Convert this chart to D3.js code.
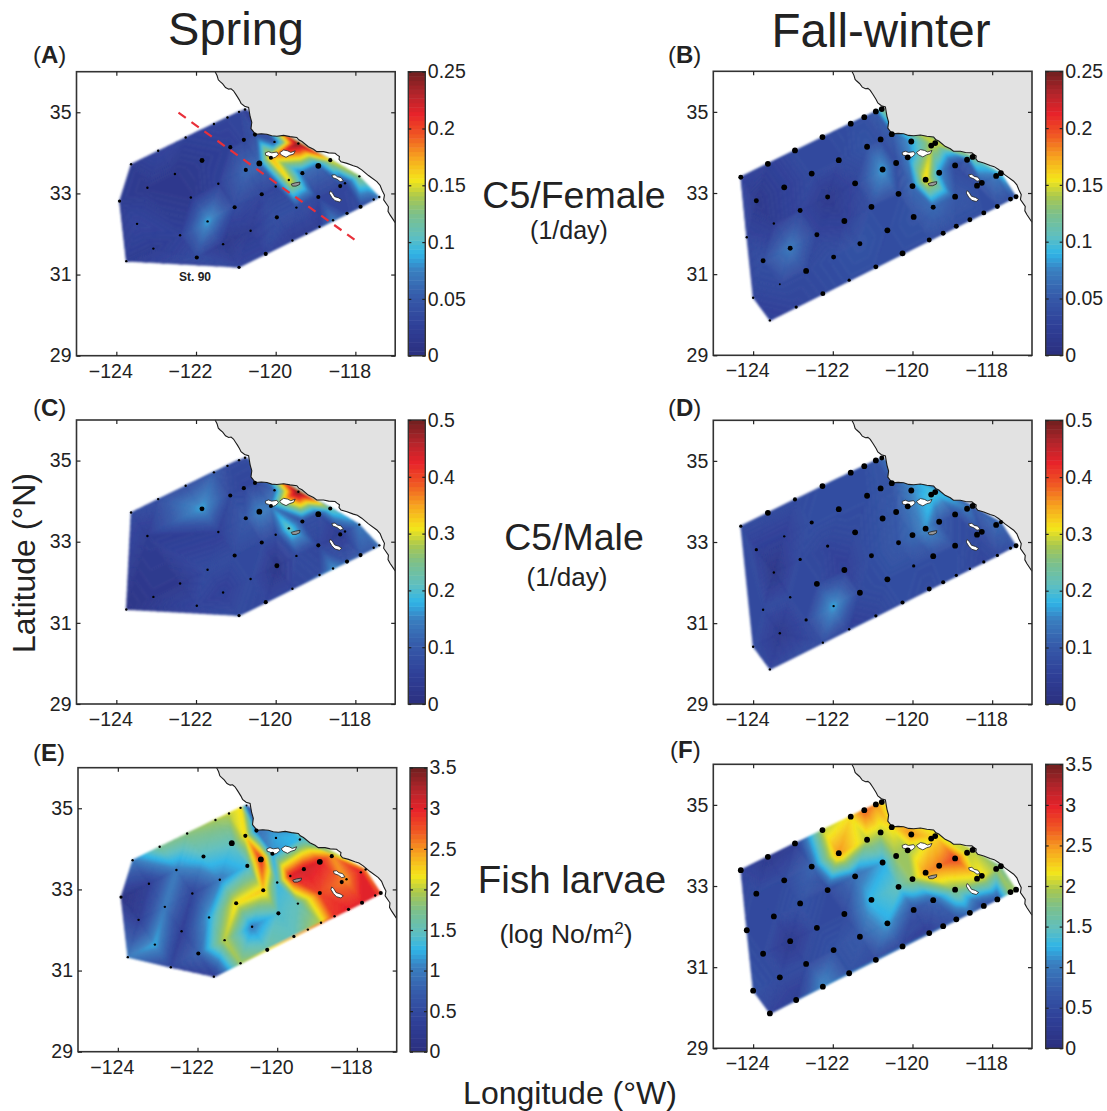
<!DOCTYPE html>
<html>
<head>
<meta charset="utf-8">
<title>Ingestion maps</title>
<script src="https://cdn.jsdelivr.net/npm/d3@7"></script>
<style>
  html, body { margin: 0; padding: 0; background: #fff; }
  svg { display: block; }
  text { font-family: "Liberation Sans", Arial, sans-serif; fill: #222; }
  .tick line { stroke: #222; stroke-width: 1.2; }
  .domain { display: none; }
</style>
</head>
<body>
<div id="chart"></div>
<script>
// --- DATA ---
// station grid, numbered 1..65
const stationLon = [-124.31,-123.63,-122.95,-122.26,-121.55,-121.21,-120.92,-120.77,-120.52,-120.80,
  -121.14,-121.85,-122.53,-123.22,-123.92,-123.48,-122.82,-122.13,-121.44,-120.75,
  -120.41,-120.12,-120.03,-119.53,-119.43,-118.93,-118.63,-118.49,-119.33,-119.67,
  -120.00,-120.35,-121.03,-121.71,-122.40,-123.07,-123.75,-124.16,-124.00,-123.33,
  -122.67,-121.98,-121.32,-120.63,-119.97,-119.48,-118.93,-118.38,-118.26,-117.90,
  -117.78,-117.54,-117.40,-117.87,-118.21,-118.56,-118.90,-119.23,-119.58,-120.25,
  -120.92,-121.59,-122.25,-122.92,-123.58];
const stationLat = [33.39,33.72,34.05,34.38,34.71,34.87,35.01,35.07,34.45,34.32,
  34.14,33.81,33.48,33.14,32.81,32.25,32.57,32.90,33.24,33.58,
  33.74,33.88,34.27,34.17,34.23,33.68,33.82,33.89,33.50,33.33,
  33.17,32.98,32.66,32.31,31.97,31.64,31.33,31.91,30.42,30.75,
  31.08,31.42,31.75,32.08,32.41,32.65,32.91,33.18,33.25,33.42,
  33.49,32.85,32.91,32.67,32.51,32.34,32.18,32.01,31.84,31.51,
  31.18,30.85,30.52,30.19,29.86];

const _ = null;
// value at each station, null = not sampled that season
const valuesA = [_,.02,.03,.025,.03,.03,.03,.02,.04,.03,
  .025,.02,.015,.015,.02,.03,_,.015,.025,.06,
  .06,.17,.045,_,.245,.06,.15,_,.06,.155,
  .03,.03,.035,.085,.025,.02,.02,_,_,_,
  _,.035,.015,.02,.04,.04,.03,.03,.03,.13,
  _,.05,.07,.035,.03,.07,.02,.02,.02,.03,
  .03,_,_,_,_];
const valuesB = [.03,.025,.035,.035,.04,.04,.05,.12,.05,.04,
  .045,.035,.035,.025,.015,.02,.03,.015,.03,.085,
  .04,.07,.085,.14,.15,.035,.05,.12,.08,.16,
  .06,.04,.04,.025,.03,.07,.04,.03,.03,.035,
  .035,.04,.045,.04,.045,.06,.05,.04,.05,.07,
  .1,.04,.05,.04,.04,.04,.04,.04,.04,.04,
  .04,.04,.035,.03,.025];
const valuesC = [_,.07,.08,.08,.1,.07,.07,.07,.06,.06,
  .07,.17,_,.04,_,_,_,_,.05,.1,
  .15,.14,.12,_,.5,.08,.22,_,.08,.22,
  .07,.07,.07,.07,.03,.03,.02,_,_,_,
  _,.06,.05,.07,.02,.07,.06,.03,.06,.14,
  _,.1,.13,.1,.09,.16,.07,_,.06,.06,
  .07,_,_,_,_];
const valuesD = [.07,.07,.07,.08,.08,.08,.09,.12,.09,.09,
  .08,.08,.08,.05,.05,.02,.07,.06,.07,.09,
  .1,.13,.15,.2,.2,.08,.14,.1,.1,.16,
  .12,.1,.08,.05,.07,.07,.07,_,.07,.03,
  .07,.17,.07,.08,.08,.08,.08,.07,.08,.12,
  .12,.08,.09,.07,.06,.07,.08,.08,.07,.08,
  .06,.05,.08,_,.06];
const valuesE = [_,1.0,1.7,1.8,1.9,2.0,2.2,.7,.9,2.2,
  1.5,1.4,1.0,.3,.1,.3,1.0,.4,1.0,1.3,
  2.9,1.1,1.2,_,1.3,3.0,2.5,_,3.1,3.0,
  1.3,2.3,2.2,1.2,.3,1.2,1.0,_,_,_,
  .4,.8,2.0,1.0,1.4,1.5,2.8,2.6,2.5,3.0,
  2.5,3.0,2.8,3.0,3.0,2.9,2.0,1.8,1.5,1.6,
  1.9,.3,_,_,_];
const valuesF = [.4,.2,.3,2.0,2.2,2.7,2.5,2.2,2.2,2.0,
  2.0,2.5,.8,.5,.5,.5,.6,.5,.9,1.2,
  1.9,1.9,2.5,2.2,2.2,2.8,2.0,2.0,2.6,2.5,
  1.9,1.5,1.3,.5,.5,.2,.5,.5,.6,.5,
  .5,.6,.7,1.2,.6,.8,1.8,2.1,2.2,1.9,
  1.7,1.9,1.9,.7,.5,.9,.6,.5,.3,.4,
  .5,.6,1.1,.3,.4];

// dot size class at each station
const sizesA = [0,1,1,1,1,1,1,1,2,2,
  2,2.5,1,1,1.5,1,0,1,1,2,
  3,2,1,0,1,3,2,0,2,1,
  1,2,2,1,1,1,1,0,0,0,
  0,2,1,1,2,1,2,2,1,1,
  0,1,1,2,1.5,1,1,1,1,2,
  1.5,0,0,0,0];
const sizesB = [2.5,3,3,3,3,3,3,3,3,3,
  3,3,3,3,2.5,1,2.5,2.5,3,3,
  3,3,3,3,3,3,3,3,3,3,
  3,3,3,3,2.5,2.5,2.5,1,1,.7,
  3,2.5,2.5,3,3,2.5,3,3,3,3,
  3,2.5,2.5,2.5,2.5,2.5,2.5,2.5,2.5,3,
  2.5,1.5,2.5,1.5,1];
const sizesC = [0,1,1,1,1,1,1,1,2,2,
  2,2.5,0,1,0,0,0,0,1,2,
  3,2,1,0,1,3,2,0,2,1,
  1,2,2,1,1,1,1,0,0,0,
  0,1,1,1,2.5,1,2,2,1,1,
  0,1,1,2,2,1,1,0,1,2,
  1.5,0,0,0,0];
const sizesD = [1.5,3,2,3,3,3,3,2.5,3,3,
  3,3,2,1,1.5,1,1.5,1.5,3,3,
  3,3,3,3,3,3,3,3,3,3,
  3,2.5,2.5,3,3,1,1,0,1,1,
  1.5,1,3,3,1.5,3,3,3,3,3,
  2,1.5,2.5,1.5,1.5,1,1.5,2,2.5,2,
  1.5,1,1,0,1];
const sizesE = [0,1,1,1,1,1,1,.7,2,2,
  3,2,1,1,1.5,1,1,1,1,2,
  3,2,1,0,1,3,2,0,2,1,
  1,2,2,1,1,1,1,0,0,0,
  1,2,1,1,2,1,2,2,1,1,
  1,1,2,2,1.5,1,1,1,1.5,2,
  1,1,0,0,0];
const sizesF = d3.range(65).map(() => 3);

// coastline
const coastLon = [-121.52,-121.47,-121.44,-121.40,-121.33,-121.26,-121.18,-121.12,-121.06,-121.0,-120.96,-120.91,-120.87,-120.78,-120.68,-120.66,-120.64,-120.60,-120.62,-120.51,-120.36,-120.22,-120.10,-119.97,-119.80,-119.64,-119.47,-119.42,-119.34,-119.18,-119.05,-118.97,-118.80,-118.67,-118.51,-118.46,-118.40,-118.41,-118.36,-118.21,-118.05,-117.95,-117.84,-117.67,-117.46,-117.38,-117.33,-117.27,-117.29,-117.17,-117.18,-117.13,-117.0];
const coastLat = [36,35.90,35.80,35.76,35.70,35.61,35.57,35.58,35.53,35.44,35.38,35.30,35.22,35.15,35.12,35.00,34.89,34.75,34.60,34.46,34.47,34.46,34.42,34.41,34.43,34.40,34.38,34.32,34.28,34.15,34.09,34.03,34.03,34.00,33.99,33.95,33.91,33.84,33.78,33.74,33.68,33.65,33.58,33.44,33.29,33.20,33.08,32.96,32.84,32.67,32.56,32.47,32.28];

// islands: [lon, lat] rings
const islandRings = [
  [[-120.26,34.00],[-120.18,34.03],[-120.10,34.00],[-119.97,34.02],[-119.93,33.96],[-120.01,33.89],[-120.10,33.86],[-120.18,33.92],[-120.25,33.94]],
  [[-119.90,34.00],[-119.80,34.07],[-119.70,34.05],[-119.62,34.01],[-119.51,34.05],[-119.55,33.97],[-119.65,33.94],[-119.74,33.89],[-119.85,33.94]],
  [[-119.61,33.23],[-119.51,33.26],[-119.39,33.28],[-119.40,33.22],[-119.49,33.18],[-119.58,33.18]],
  [[-118.59,33.45],[-118.51,33.46],[-118.45,33.41],[-118.36,33.39],[-118.30,33.31],[-118.38,33.29],[-118.46,33.35],[-118.57,33.39]],
  [[-118.63,33.06],[-118.58,33.02],[-118.52,32.92],[-118.42,32.89],[-118.34,32.84],[-118.40,32.79],[-118.51,32.82],[-118.59,32.90],[-118.65,33.00]]
];

// dashed transect in panel A
const transectLon = [-122.44,-117.95];
const transectLat = [34.99,31.81];

// tick labels
const lonTicks = [-124,-122,-120,-118];
const latTicks = [29,31,33,35];
const barTicksFemale = [0,0.05,0.1,0.15,0.2,0.25];
const barTicksMale = [0,0.1,0.2,0.3,0.4,0.5];
const barTicksLarvae = [0,0.5,1,1.5,2,2.5,3,3.5];

// colour ramp of the colour bar, low to high
const rampStops = [0,.1,.2,.3,.36,.42,.5,.56,.62,.7,.78,.85,.92,1];
const rampColors = ["#2b2f7e","#2f3f97","#3558a8","#3a7fc0","#2fb5e8","#5fbfc0","#7dc08a","#a9c84f","#f5e61a","#f7a31f","#ef5423","#e8232a","#b5252b","#6f1f1f"];

// --- LAYOUT ---
const panels = [
  { letter: "A", x: 76.5, y: 71.7, bar: 408.3, lx: 33, ly: 63, values: valuesA, sizes: sizesA, ticks: barTicksFemale },
  { letter: "B", x: 713.3, y: 71.3, bar: 1045.7, lx: 668, ly: 63, values: valuesB, sizes: sizesB, ticks: barTicksFemale },
  { letter: "C", x: 76.5, y: 420, bar: 408.3, lx: 33, ly: 416, values: valuesC, sizes: sizesC, ticks: barTicksMale },
  { letter: "D", x: 713.3, y: 420.3, bar: 1045.7, lx: 668, ly: 416, values: valuesD, sizes: sizesD, ticks: barTicksMale },
  { letter: "E", x: 78, y: 767.7, bar: 410, lx: 33, ly: 761, values: valuesE, sizes: sizesE, ticks: barTicksLarvae },
  { letter: "F", x: 713.3, y: 764.3, bar: 1045.7, lx: 670, ly: 758, values: valuesF, sizes: sizesF, ticks: barTicksLarvae }
];
const plotW = 318.7, plotH = 284, barW = 17, nBands = 160;

const svg = d3.select("#chart").append("svg").attr("width", 1107).attr("height", 1111);

// Weichzeichner: nimmt die Bandkanten aus dem Feld
svg.append("defs").append("filter").attr("id", "soft")
  .append("feGaussianBlur").attr("stdDeviation", 0.8);

const ramp = d3.scaleLinear().domain(rampStops).range(rampColors).interpolate(d3.interpolateRgb);
const radius = d3.scaleLinear().domain([1, 3]).range([1.2, 2.9]);

// Schneidet ein Dreieck (x, y, v) auf den Wertebereich [lo, hi]
function clipBand(poly, lo, hi) {
  function clip(pts, inside, level) {
    const out = [];
    pts.forEach((p, i) => {
      const q = pts[(i + 1) % pts.length];
      const pIn = inside(p[2]), qIn = inside(q[2]);
      if (pIn) out.push(p);
      if (pIn !== qIn) {
        const t = (level - p[2]) / (q[2] - p[2]);
        out.push([p[0] + t * (q[0] - p[0]), p[1] + t * (q[1] - p[1]), level]);
      }
    });
    return out;
  }
  const a = clip(poly, v => v >= lo, lo);
  return a.length ? clip(a, v => v <= hi, hi) : a;
}

function drawPanel(p) {
  const g = svg.append("g").attr("transform", `translate(${p.x},${p.y})`);
  const xScale = d3.scaleLinear().domain([-125, -117]).range([0, plotW]);
  const yScale = d3.scaleLinear().domain([29, 36]).range([plotH, 0]);
  const maxVal = p.ticks[p.ticks.length - 1];
  const colorOf = v => ramp(v / maxVal);

  // Feld: lineare Interpolation auf der Delaunay-Triangulation, in Farbbändern
  const pts = d3.range(stationLon.length).filter(i => p.values[i] !== null)
    .map(i => [xScale(stationLon[i]), yScale(stationLat[i]), p.values[i], p.sizes[i]]);
  const delaunay = d3.Delaunay.from(pts, d => d[0], d => d[1]);
  const bandPaths = d3.range(nBands).map(() => "");
  const tris = delaunay.triangles;
  for (let t = 0; t < tris.length; t += 3) {
    const tri = [pts[tris[t]], pts[tris[t + 1]], pts[tris[t + 2]]];
    const vs = tri.map(d => d[2]);
    const b0 = Math.max(0, Math.floor(d3.min(vs) / maxVal * nBands));
    const b1 = Math.min(nBands - 1, Math.floor(d3.max(vs) / maxVal * nBands));
    for (let b = b0; b <= b1; b++) {
      const part = clipBand(tri, b / nBands * maxVal, (b + 1) / nBands * maxVal);
      if (part.length > 2) bandPaths[b] += "M" + part.map(d => d[0].toFixed(2) + "," + d[1].toFixed(2)).join("L") + "Z";
    }
  }
  g.append("g").attr("filter", "url(#soft)")
    .selectAll("path").data(bandPaths.map((d, b) => ({ d, b })).filter(e => e.d))
    .join("path")
    .attr("d", e => e.d)
    .attr("fill", e => colorOf((e.b + 0.5) / nBands * maxVal))
    .attr("stroke", e => colorOf((e.b + 0.5) / nBands * maxVal))
    .attr("stroke-width", 0.6);

  // Land
  const coast = d3.line().x(d => xScale(d)).y((d, i) => yScale(coastLat[i]));
  g.append("path")
    .attr("d", coast(coastLon) + `L${plotW},${yScale(coastLat[coastLat.length - 1])}L${plotW},0Z`)
    .attr("fill", "#e2e2e2");
  g.append("path").attr("d", coast(coastLon)).attr("fill", "none").attr("stroke", "#1a1a1a").attr("stroke-width", 1.1);

  // Inseln
  g.selectAll("path.island").data(islandRings).join("path").attr("class", "island")
    .attr("d", r => d3.line().x(d => xScale(d[0])).y(d => yScale(d[1])).curve(d3.curveLinearClosed)(r))
    .attr("fill", (r, i) => i === 2 ? "#999" : "#fff")
    .attr("stroke", "#222").attr("stroke-width", 0.8);

  // Stationen
  g.selectAll("circle").data(pts).join("circle")
    .attr("cx", d => d[0]).attr("cy", d => d[1])
    .attr("r", d => radius(d[3]))
    .attr("fill", "#000");

  if (p.letter === "A") {
    g.append("line")
      .attr("x1", xScale(transectLon[0])).attr("y1", yScale(transectLat[0]))
      .attr("x2", xScale(transectLon[1])).attr("y2", yScale(transectLat[1]))
      .attr("stroke", "#e8303a").attr("stroke-width", 2.2).attr("stroke-dasharray", "9,7");
    g.append("text").attr("x", xScale(-121.85) - 7).attr("y", yScale(30.84))
      .attr("text-anchor", "middle").attr("font-size", 12).attr("font-weight", "bold").text("St. 90");
  }

  // Rahmen und Achsen
  g.append("rect").attr("width", plotW).attr("height", plotH)
    .attr("fill", "none").attr("stroke", "#333").attr("stroke-width", 1.6);
  g.append("g").attr("transform", `translate(0,${plotH})`)
    .call(d3.axisBottom(xScale).tickValues(lonTicks).tickSize(-4).tickPadding(8))
    .call(a => a.selectAll("text").attr("font-size", 19.5).attr("dy", "0.71em").attr("dx", -6));
  g.append("g").call(d3.axisTop(xScale).tickValues(lonTicks).tickSize(-4).tickFormat(""));
  g.append("g")
    .call(d3.axisLeft(yScale).tickValues(latTicks).tickSize(-4).tickPadding(5).tickFormat(d3.format("d")))
    .call(a => a.selectAll("text").attr("font-size", 19.5));
  g.append("g").attr("transform", `translate(${plotW},0)`)
    .call(d3.axisRight(yScale).tickValues(latTicks).tickSize(-4).tickFormat(""));

  // Farbskala
  const bar = svg.append("g").attr("transform", `translate(${p.bar},${p.y})`);
  const barScale = d3.scaleLinear().domain([0, maxVal]).range([plotH, 0]);
  const barSteps = d3.range(64);
  bar.selectAll("rect.step").data(barSteps).join("rect").attr("class", "step")
    .attr("x", 0).attr("width", barW)
    .attr("y", s => barScale((s + 1) / 64 * maxVal))
    .attr("height", plotH / 64 + 0.5)
    .attr("fill", s => colorOf((s + 0.5) / 64 * maxVal));
  bar.append("rect").attr("width", barW).attr("height", plotH)
    .attr("fill", "none").attr("stroke", "#333").attr("stroke-width", 1.4);
  bar.append("g").attr("transform", `translate(${barW},0)`)
    .call(d3.axisRight(barScale).tickValues(p.ticks).tickSize(-3).tickPadding(2.5).tickFormat(d => String(d)))
    .call(a => a.selectAll("text").attr("font-size", 19.5));
  bar.append("g")
    .call(d3.axisLeft(barScale).tickValues(p.ticks).tickSize(-3).tickFormat(""));

  // Buchstabe
  const label = svg.append("text").attr("x", p.lx).attr("y", p.ly).attr("font-size", 24);
  label.append("tspan").text("(");
  label.append("tspan").attr("font-weight", "bold").text(p.letter);
  label.append("tspan").text(")");
}

panels.forEach(drawPanel);

// --- TEXTE ---
function addText(x, y, size, str) {
  return svg.append("text").attr("x", x).attr("y", y).attr("font-size", size)
    .attr("text-anchor", "middle").text(str);
}
addText(236, 45, 47, "Spring");
addText(881, 47, 47.5, "Fall-winter");
addText(574, 208, 37.5, "C5/Female");
addText(569, 239, 25, "(1/day)");
addText(574, 550, 37.5, "C5/Male");
addText(567, 586, 26, "(1/day)");
addText(572, 893, 38.5, "Fish larvae");
const logLabel = addText(566, 943, 26.5, "(log No/m");
logLabel.append("tspan").attr("font-size", 17).attr("dy", -9).text("2");
logLabel.append("tspan").attr("dy", 9).text(")");
addText(570, 1104, 32, "Longitude (°W)");
svg.append("text").attr("transform", "translate(35,563) rotate(-90)")
  .attr("font-size", 32).attr("text-anchor", "middle").text("Latitude (°N)");
</script>
</body>
</html>
